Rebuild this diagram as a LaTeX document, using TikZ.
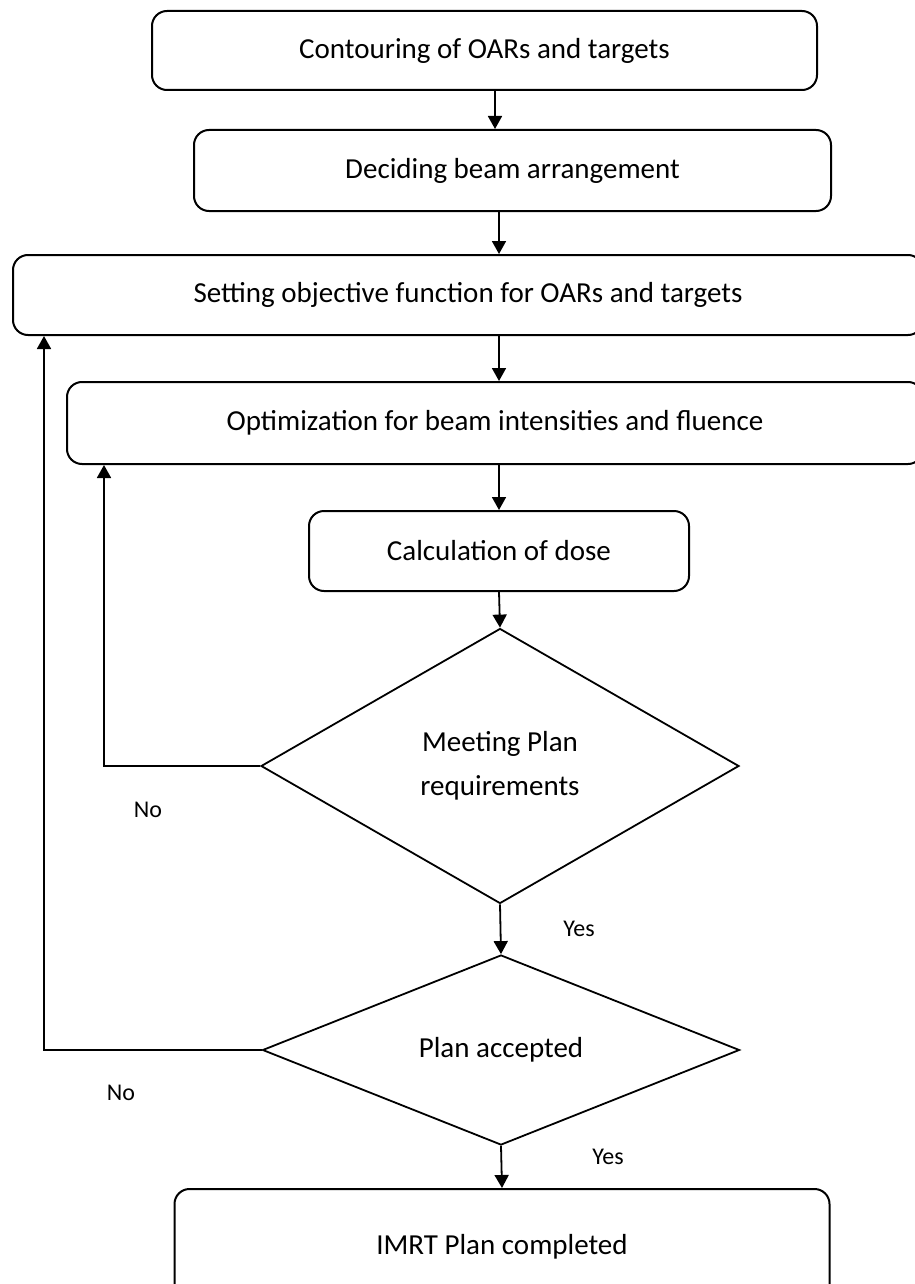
\documentclass[tikz,border=0pt]{standalone}
\usepackage{fontspec}
\setmainfont{Carlito}
\usetikzlibrary{arrows.meta,shapes.geometric,positioning}

\begin{document}
\begin{tikzpicture}[x=1pt,y=-1pt,line width=1.8pt,
    >={Triangle[length=13pt,width=14pt]},
    every node/.style={font=\fontsize{29}{34}\selectfont},
    box/.style={draw,line width=2pt,rounded corners=15pt,inner sep=0pt},
    test/.style={draw,line width=1.8pt,diamond,inner sep=0pt,align=center},
    answer/.style={font=\fontsize{24}{28}\selectfont}]
    \useasboundingbox (0,0) rectangle (914,1284);
    \node[box,minimum width=665pt,minimum height=79pt] (box_1) at (484.5,50.5)  {Contouring of OARs and targets};
    \node[box,minimum width=637pt,minimum height=81pt] (box_2) at (512.5,170.5) {Deciding beam arrangement};
    \node[box,minimum width=910pt,minimum height=80pt] (box_3) at (468,295)     {Setting objective function for OARs and targets};
    \node[box,minimum width=856pt,minimum height=82pt] (box_4) at (495,423)     {Optimization for beam intensities and fluence};
    \node[box,minimum width=380pt,minimum height=80pt] (box_5) at (499,551)     {Calculation of dose};
    \node[test,minimum width=478pt,minimum height=275pt] (dec_1) at (500,766) {Meeting Plan\\[10pt]requirements};
    \node[test,minimum width=477pt,minimum height=190pt] (dec_2) at (501,1050) {Plan accepted};
    \node[box,minimum width=655pt,minimum height=116pt] (box_6) at (502,1247) {IMRT Plan completed};
    % answers
    \node[answer] (no_1)  at (148,810)  {No};
    \node[answer] (yes_1) at (579,929)  {Yes};
    \node[answer] (no_2)  at (121,1093) {No};
    \node[answer] (yes_2) at (608,1157) {Yes};
    % loop ends
    \coordinate (back_1) at ([xshift=38pt]box_4.south west);
    \coordinate (back_2) at ([xshift=32pt]box_3.south west);
    \path[->]
    (box_1.south -| box_4) edge (box_2.north -| box_4)
    (box_2.south -| box_5) edge (box_3.north -| box_5)
    (box_3.south -| box_5) edge (box_4.north -| box_5)
    (box_4.south -| box_5) edge (box_5.north)
    (box_5.south) edge (dec_1.north)
    (dec_1.south) edge (dec_2.north)
    (dec_2.south) edge (box_6.north);
    % going back
    \draw[->] (dec_1.west) -| (back_1);
    \draw[->] (dec_2.west) -| (back_2);
\end{tikzpicture}
\end{document}
